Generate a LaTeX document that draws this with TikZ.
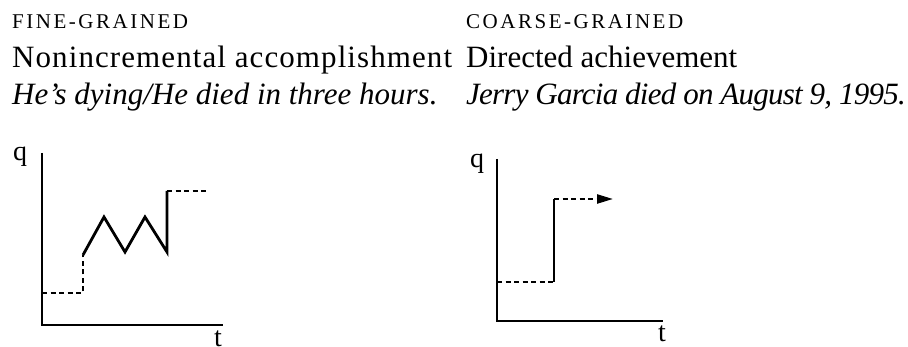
\documentclass[tikz,border=0pt]{standalone}
\usepackage{fontspec}
\setmainfont{Liberation Serif}
\newfontfamily\hdrfont[LetterSpace=12]{Liberation Serif}
\newfontfamily\widefont[LetterSpace=3.5]{Liberation Serif}
\newfontfamily\tightfont[LetterSpace=-2.5]{Liberation Serif}
\usetikzlibrary{arrows.meta}
\begin{document}
\begin{tikzpicture}[x=1pt,y=-1pt,
  txt/.style={anchor=base west,inner sep=0pt,font=\fontsize{31}{36}\selectfont},
  itxt/.style={anchor=base west,inner sep=0pt,font=\fontsize{31}{36}\selectfont\itshape},
  hdr/.style={anchor=base west,inner sep=0pt,font=\hdrfont\fontsize{21}{24}\selectfont},
  axlbl/.style={inner sep=0pt,anchor=base,font=\fontsize{28}{30}\selectfont},
  axis/.style={line width=2.8pt},
  solidline/.style={line width=2.8pt},
  dashline/.style={line width=2.3pt,dash pattern=on 5pt off 3.5pt}]
\useasboundingbox (0,0) rectangle (908,347);
% texts
\node[hdr]  (h1) at (12,29)  {FINE-GRAINED};
\node[txt,font=\widefont\fontsize{31}{36}\selectfont]  (l1) at (12,68)  {Nonincremental accomplishment};
\node[itxt] (e1) at (12,105) {He’s dying/He died in three hours.};
\node[hdr]  (h2) at (466,29)  {COARSE-GRAINED};
\node[txt]  (l2) at (466,68)  {Directed achievement};
\node[itxt,font=\tightfont\fontsize{31}{36}\selectfont\itshape] (e2) at (466,105) {Jerry Garcia died on August 9, 1995.};
% left graph
\node[axlbl] (q1) at (20,161) {q};
\node[axlbl] (t1) at (218,347) {t};
\coordinate (a1top) at (42,153);
\coordinate (a1o) at (42,325);
\coordinate (a1r) at (223,325);
\draw[axis] (a1top) -- (a1o) -- (a1r);
\coordinate (p0) at (42,293);
\coordinate (p1) at (83,293);
\coordinate (p2) at (83,255);
\coordinate (p3) at (104,217);
\coordinate (p4) at (125,252);
\coordinate (p5) at (145,217);
\coordinate (p6) at (167,252);
\coordinate (p7) at (167,191);
\coordinate (p8) at (207,191);
\draw[dashline] (p0) -- (p1) -- (p2);
\draw[solidline] (p2) -- (p3) -- (p4) -- (p5) -- (p6) -- (p7);
\draw[dashline] (p7) -- (p8);
% right graph
\node[axlbl] (q2) at (477,168) {q};
\node[axlbl] (t2) at (662,342) {t};
\coordinate (a2top) at (497,159);
\coordinate (a2o) at (497,321);
\coordinate (a2r) at (663,321);
\draw[axis] (a2top) -- (a2o) -- (a2r);
\coordinate (r0) at (497,282);
\coordinate (r1) at (554,282);
\coordinate (r2) at (554,199);
\coordinate (r3) at (613,199);
\draw[dashline] (r0) -- (r1);
\draw[solidline] (r1) -- (r2);
\draw[dashline,-{Triangle[length=16pt,width=9pt]}] (r2) -- (r3);
\end{tikzpicture}
\end{document}
